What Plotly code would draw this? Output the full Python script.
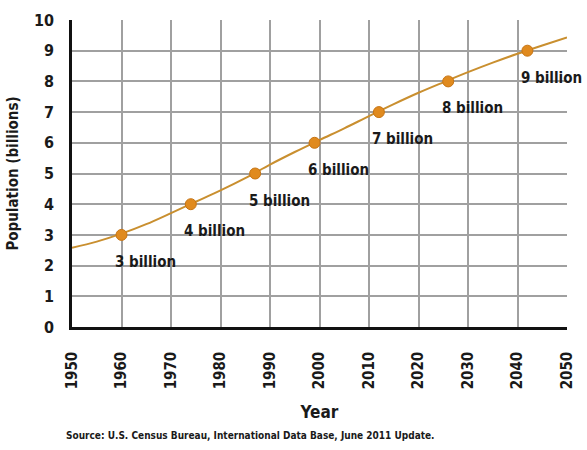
import plotly.graph_objects as go

# Population curve (billions)
years = [1950, 1955, 1960, 1965, 1970, 1975, 1980, 1985, 1990, 1995, 2000,
         2005, 2010, 2015, 2020, 2025, 2030, 2035, 2040, 2045, 2050]
population = [2.58, 2.78, 3.04, 3.35, 3.71, 4.08, 4.45, 4.85, 5.29, 5.70, 6.09,
              6.47, 6.87, 7.26, 7.63, 7.97, 8.30, 8.61, 8.90, 9.17, 9.43]

# Milestones
milestone_years = [1960, 1974, 1987, 1999, 2012, 2026, 2042]
milestone_values = [3, 4, 5, 6, 7, 8, 9]
milestone_labels = ["3 billion", "4 billion", "5 billion", "6 billion",
                    "7 billion", "8 billion", "9 billion"]

x_ticks = list(range(1950, 2051, 10))
y_ticks = list(range(0, 11))

FONT = "Liberation Sans Narrow, DejaVu Sans Condensed, Arial Narrow, sans-serif"
TXT = "#1a1a1a"

fig = go.Figure()
fig.add_trace(go.Scatter(x=years, y=population, mode="lines",
                         line=dict(color="#c98f2f", width=2, shape="spline"),
                         hoverinfo="skip", showlegend=False))
fig.add_trace(go.Scatter(x=milestone_years, y=milestone_values, mode="markers",
                         marker=dict(color="#e08a1e", size=11,
                                     line=dict(color="#c77412", width=1)),
                         showlegend=False))

for xv, yv, lab in zip(milestone_years, milestone_values, milestone_labels):
    fig.add_annotation(x=xv, y=yv, text=lab, showarrow=False,
                       xanchor="center", yanchor="middle",
                       xshift=24, yshift=-27,
                       font=dict(family=FONT, size=15, color=TXT, weight="bold"))

fig.add_annotation(x=0, y=-0.355, xref="paper", yref="paper",
                   xanchor="left", yanchor="middle", showarrow=False,
                   xshift=-8,
                   text="Source: U.S. Census Bureau, International Data Base, June 2011 Update.",
                   font=dict(family=FONT, size=10, color=TXT, weight="bold"))

fig.update_layout(
    width=587, height=450,
    margin=dict(l=72, r=11, t=19, b=123),
    paper_bgcolor="white", plot_bgcolor="white",
    font=dict(family=FONT, color=TXT, weight="bold"),
    xaxis=dict(range=[1950, 2050], tickvals=x_ticks, tickangle=-90,
               showgrid=True, gridcolor="#a0a0a0", gridwidth=1.5,
               showline=True, linecolor="#111111", linewidth=2.5,
               zeroline=False, ticks="", ticklabelstandoff=16,
               tickfont=dict(family=FONT, size=15, color=TXT, weight="bold"),
               title=dict(text="Year", standoff=18,
                          font=dict(family=FONT, size=17, color=TXT, weight="bold"))),
    yaxis=dict(range=[0, 10], tickvals=y_ticks,
               showgrid=True, gridcolor="#a0a0a0", gridwidth=1.5,
               showline=True, linecolor="#111111", linewidth=2.5,
               zeroline=False, ticks="", ticklabelstandoff=12,
               tickfont=dict(family=FONT, size=16, color=TXT, weight="bold"),
               title=dict(text="Population (billions)", standoff=12,
                          font=dict(family=FONT, size=15, color=TXT, weight="bold"))),
)

fig.write_html("out.html")
